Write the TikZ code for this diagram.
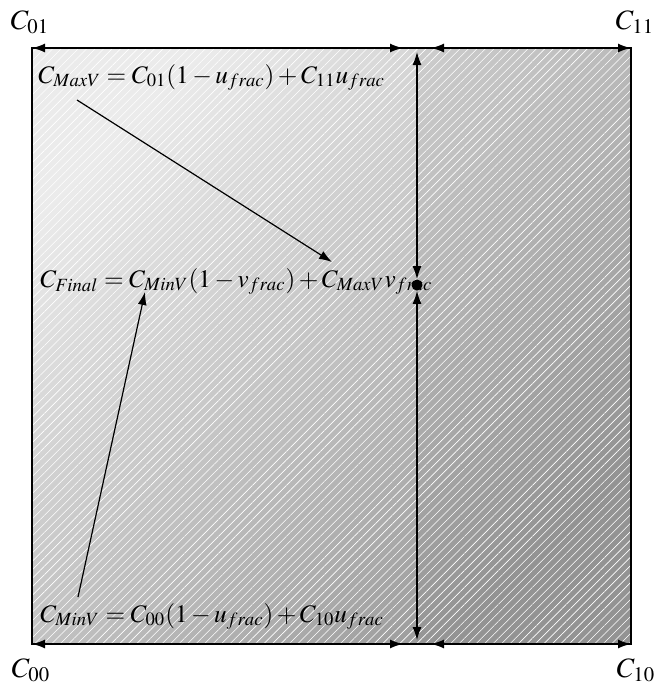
\documentclass[tikz,border=0pt]{standalone}
\usepackage{mathptmx}
\usetikzlibrary{positioning,arrows.meta,patterns.meta}

\tikzset{
	eqn/.style={inner sep=0pt, anchor=base west, font=\fontsize{12.6}{15}\selectfont},
	cornerlabel/.style={inner sep=0pt, font=\fontsize{14}{17}\selectfont},
	span/.style={{Latex[length=6.5pt,width=4.5pt]}-{Latex[length=6.5pt,width=4.5pt]}, line width=0.9pt},
	pointer/.style={-{Latex[length=6.5pt,width=4.5pt]}, line width=0.6pt}
}

\begin{document}
\begin{tikzpicture}[x=0.5pt,y=-0.5pt]
	
	\useasboundingbox (0,0) rectangle (657,687);
	
	% corners of the cell
	\coordinate (c01) at (32,48);
	\coordinate (c11) at (631,48);
	\coordinate (c00) at (32,644);
	\coordinate (c10) at (631,644);
	\coordinate (mtop) at (417,48);
	\coordinate (mbot) at (417,644);
	
	% shaded cell
	\shade[top color=gray!16, bottom color=black!40, shading angle=45] (c00) rectangle (c11);
	\fill[black, fill opacity=0.04] (mtop) rectangle (c10);
	\fill[pattern={Lines[angle=45,distance=3pt,line width=0.3pt]}, pattern color=white, fill opacity=0.2] (c00) rectangle (c11);
	\draw[line width=0.6pt] (c00) rectangle (c11);
	
	% corner labels
	\node[cornerlabel] (l01) at (30,22) {$C_{01}$};
	\node[cornerlabel] (l11) at (635,22) {$C_{11}$};
	\node[cornerlabel] (l00) at (31,670) {$C_{00}$};
	\node[cornerlabel] (l10) at (636,670) {$C_{10}$};
	
	% sample point
	\node[circle, fill=black, inner sep=0pt, minimum size=5.5pt] (pt) at (417,285) {};
	
	% equations
	\node[eqn] (eqMax) at (38,83) {$C_{MaxV} = C_{01}(1 - u_{frac}) + C_{11}u_{frac}$};
	\node[eqn] (eqFinal) at (40,287) {$C_{Final} = C_{MinV}(1 - v_{frac}) + C_{MaxV}v_{frac}$};
	\node[eqn] (eqMin) at (40,622) {$C_{MinV} = C_{00}(1 - u_{frac}) + C_{10}u_{frac}$};
	
	% spans along the edges
	\draw[span, shorten <=7pt] (mtop) -- (c01);
	\draw[span, shorten <=7pt] (mtop) -- (c11);
	\draw[span, shorten <=7pt] (mbot) -- (c00);
	\draw[span, shorten <=7pt] (mbot) -- (c10);
	\draw[span, line width=0.6pt, shorten <=2pt] (mtop) -- (pt.north);
	\draw[span, line width=0.6pt, shorten <=2pt] (mbot) -- (pt.south);
	
	% pointers
	\coordinate (fromMax) at (77,100);
	\coordinate (toMax) at (332,262);
	\coordinate (fromMin) at (78,597);
	\coordinate (toMin) at (145,292);
	\draw[pointer] (fromMax) -- (toMax);
	\draw[pointer] (fromMin) -- (toMin);
	
\end{tikzpicture}
\end{document}
